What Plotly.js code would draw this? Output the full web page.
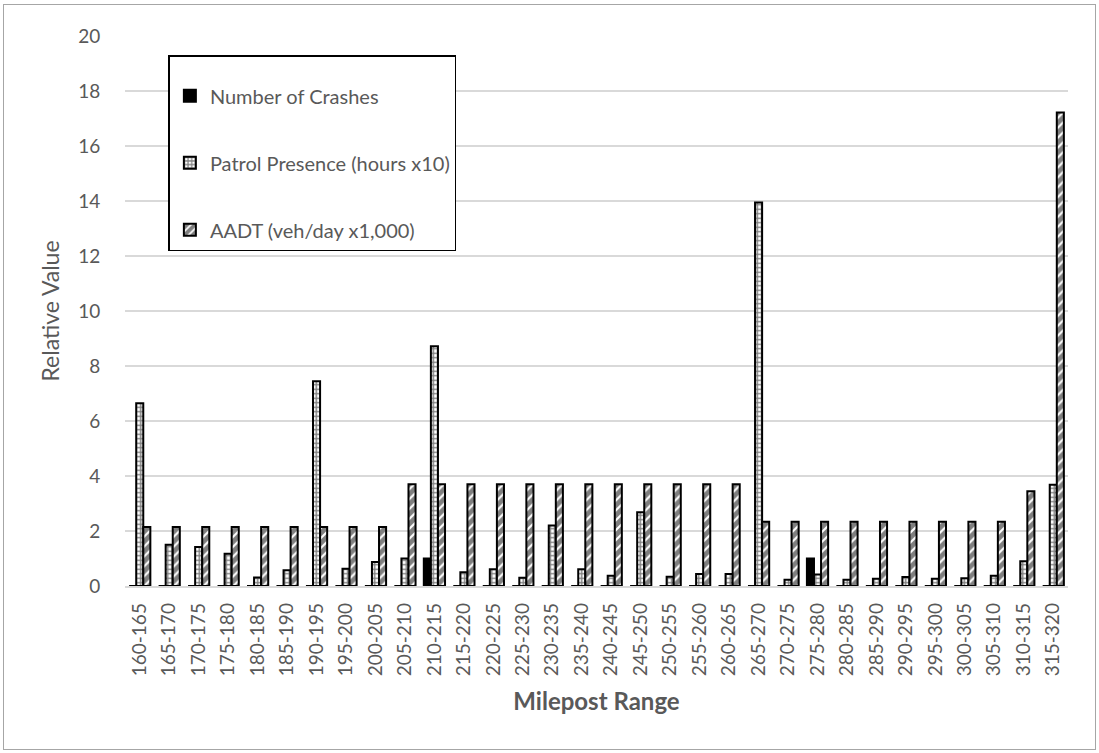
<!DOCTYPE html>
<html>
<head>
<meta charset="utf-8">
<script src="https://cdn.plot.ly/plotly-3.0.1.min.js"></script>
<style>
  html, body { margin: 0; padding: 0; background: #fff; }
  #wrap { position: absolute; left: 0; top: 0; width: 1099px; height: 753px; }
  #frame { position: absolute; left: 3px; top: 4px; width: 1091px; height: 744px; border: 1px solid #a6a6a6; pointer-events: none; }
  #chart { position: absolute; left: 0; top: 0; width: 1099px; height: 753px; }
</style>
</head>
<body>
<div id="wrap">
  <div id="chart"></div>
  <div id="frame"></div>
</div>
<script>
const categories = ["160-165","165-170","170-175","175-180","180-185","185-190","190-195","195-200","200-205","205-210","210-215","215-220","220-225","225-230","230-235","235-240","240-245","245-250","250-255","255-260","260-265","265-270","270-275","275-280","280-285","285-290","290-295","295-300","300-305","305-310","310-315","315-320"];

const crashes = [0,0,0,0,0,0,0,0,0,0,1,0,0,0,0,0,0,0,0,0,0,0,0,1,0,0,0,0,0,0,0,0];

const patrol = [6.65,1.5,1.42,1.17,0.31,0.57,7.45,0.63,0.87,1.0,8.72,0.5,0.61,0.3,2.2,0.61,0.37,2.68,0.34,0.44,0.44,13.95,0.23,0.42,0.23,0.26,0.33,0.26,0.28,0.37,0.9,3.68];

const aadt = [2.15,2.15,2.15,2.15,2.15,2.15,2.15,2.15,2.15,3.7,3.7,3.7,3.7,3.7,3.7,3.7,3.7,3.7,3.7,3.7,3.7,2.34,2.34,2.34,2.34,2.34,2.34,2.34,2.34,2.34,3.45,17.22];

const seriesNames = ["Number of Crashes", "Patrol Presence (hours x10)", "AADT (veh/day x1,000)"];

const FONT = "Lato, 'Open Sans', sans-serif";
const TXT = "#595959";

const outline = { color: "#000000", width: 2 };

const traces = [
  {
    type: "bar", name: seriesNames[0], x: categories, y: crashes,
    legendgroup: "g1",
    marker: { color: "#000000", line: outline }
  },
  {
    type: "bar", name: seriesNames[1], x: categories, y: patrol,
    legendgroup: "g2",
    marker: { color: "#ffffff", line: outline,
      pattern: { shape: "+", size: 4.5, solidity: 0.55, fgcolor: "#000000", bgcolor: "#ffffff", fillmode: "overlay" } }
  },
  {
    type: "bar", name: seriesNames[2], x: categories, y: aadt,
    legendgroup: "g3",
    marker: { color: "#ffffff", line: outline,
      pattern: { shape: "/", size: 7, solidity: 0.7, fgcolor: "#000000", bgcolor: "#ffffff", fillmode: "overlay" } }
  }
];

const layout = {
  width: 1099, height: 753,
  margin: { l: 125, r: 31, t: 36, b: 167 },
  paper_bgcolor: "#ffffff", plot_bgcolor: "#ffffff",
  font: { family: FONT, color: TXT, size: 19 },
  barmode: "group",
  bargap: 0.28, bargroupgap: 0,
  showlegend: true,
  legend: {
    x: 0.046, y: 0.965, xanchor: "left", yanchor: "top",
    bordercolor: "#000000", borderwidth: 1.5, bgcolor: "#ffffff",
    font: { family: FONT, size: 20, color: TXT },
    traceorder: "grouped", tracegroupgap: 38,
    title: { text: "&nbsp;", font: { size: 15 } }
  },
  xaxis: {
    type: "category",
    tickangle: -90,
    tickfont: { family: FONT, size: 19, color: TXT },
    ticks: "outside", ticklen: 8, tickcolor: "rgba(0,0,0,0)",
    showgrid: false, showline: true, linecolor: "#d9d9d9", linewidth: 1.5,
    zeroline: false,
    title: { text: "Milepost Range", font: { family: FONT, size: 24, color: TXT, weight: "bold" }, standoff: 18 }
  },
  yaxis: {
    range: [0, 20], dtick: 2, tick0: 0,
    tickfont: { family: FONT, size: 19, color: TXT },
    ticks: "outside", ticklen: 20, tickcolor: "rgba(0,0,0,0)",
    showgrid: true, gridcolor: "#d9d9d9", gridwidth: 1.5,
    zeroline: false, showline: false,
    title: { text: "Relative Value", font: { family: FONT, size: 23, color: TXT }, standoff: 12 }
  }
};

Plotly.newPlot("chart", traces, layout, { displayModeBar: false, staticPlot: true });
</script>
</body>
</html>
